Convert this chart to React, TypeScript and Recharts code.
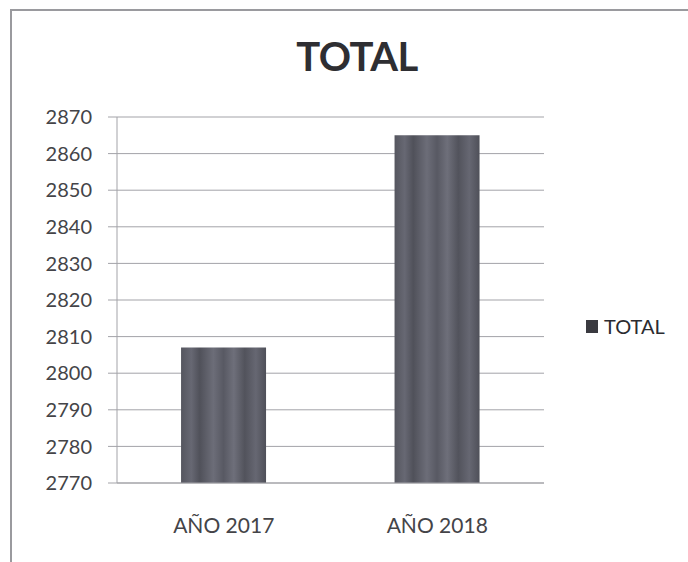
import { BarChart, Bar, XAxis, YAxis, CartesianGrid } from "recharts";

const categories = ["AÑO 2017", "AÑO 2018"];
const totals = [2807, 2865];
const yTicks = [2770, 2780, 2790, 2800, 2810, 2820, 2830, 2840, 2850, 2860, 2870];

const chartData = categories.map((name, i) => ({ name, TOTAL: totals[i] }));

const FONT = "Lato, 'Open Sans', sans-serif";
const TEXT = "#444448";
const GRID = "#a3a3a8";

export default function App() {
  return (
    <div style={{ position: "fixed", left: 0, top: 0, width: 688, height: 562, background: "#fff", overflow: "hidden" }}>
      {/* frame of the original sheet */}
      <div
        style={{
          position: "absolute",
          left: 10,
          top: 9,
          width: 700,
          height: 600,
          borderTop: "2px solid #9a9a9e",
          borderLeft: "2px solid #9a9a9e",
        }}
      />
      <div
        style={{
          position: "absolute",
          left: 0,
          width: 714,
          top: 36,
          textAlign: "center",
          fontFamily: FONT,
          fontWeight: 700,
          fontSize: 40,
          lineHeight: "40px",
          color: "#2e2e32",
          letterSpacing: -0.5,
        }}
      >
        TOTAL
      </div>
      <div
        style={{
          position: "absolute",
          left: 586,
          top: 314,
          display: "flex",
          alignItems: "center",
          fontFamily: FONT,
          fontSize: 20,
          color: "#2b2b30",
        }}
      >
        <span style={{ width: 12, height: 13, background: "#3a3a40", marginRight: 6, display: "inline-block" }} />
        <span>TOTAL</span>
      </div>
      <div style={{ position: "absolute", left: 0, top: 0 }}>
        <BarChart
          width={688}
          height={562}
          data={chartData}
          margin={{ top: 117, right: 144, bottom: 49, left: 0 }}
          barCategoryGap="30%"
        >
          <defs>
            <linearGradient id="barStripes" x1="0" y1="0" x2="1" y2="0">
              <stop offset="0%" stopColor="#55565f" />
              <stop offset="12%" stopColor="#676873" />
              <stop offset="22%" stopColor="#50515a" />
              <stop offset="38%" stopColor="#6c6d78" />
              <stop offset="50%" stopColor="#585963" />
              <stop offset="62%" stopColor="#6e6f7a" />
              <stop offset="75%" stopColor="#52535c" />
              <stop offset="88%" stopColor="#666772" />
              <stop offset="100%" stopColor="#4f5059" />
            </linearGradient>
          </defs>
          <CartesianGrid vertical={false} stroke={GRID} strokeWidth={1} />
          <XAxis
            dataKey="name"
            stroke={GRID}
            tickLine={false}
            height={30}
            tickMargin={29}
            tick={{ fontSize: 21, fill: TEXT, fontFamily: FONT }}
          />
          <YAxis
            domain={[2770, 2870]}
            ticks={yTicks}
            width={117}
            stroke={GRID}
            tickSize={9}
            tickMargin={16}
            tick={{ fontSize: 20, fill: TEXT, fontFamily: FONT }}
          />
          <Bar dataKey="TOTAL" fill="url(#barStripes)" isAnimationActive={false} />
        </BarChart>
      </div>
    </div>
  );
}
